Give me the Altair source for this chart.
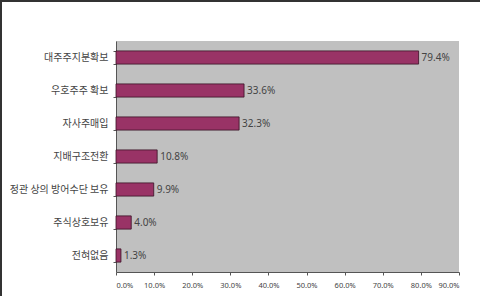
import altair as alt
import pandas as pd

categories = ["대주주지분확보", "우호주주 확보", "자사주매입", "지배구조전환", "정관 상의 방어수단 보유", "주식상호보유", "전혀없음"]
values = [0.794, 0.336, 0.323, 0.108, 0.099, 0.040, 0.013]
labels = ["79.4%", "33.6%", "32.3%", "10.8%", "9.9%", "4.0%", "1.3%"]
x_ticks = [0.0, 0.1, 0.2, 0.3, 0.4, 0.5, 0.6, 0.7, 0.8, 0.9]

df = pd.DataFrame({"cat": categories, "val": values, "lab": labels})

y = alt.Y("cat:N", sort=categories, title=None,
          scale=alt.Scale(paddingInner=0.6, paddingOuter=0.3),
          axis=alt.Axis(tickBand="extent", labelFontSize=10, labelColor="#444444",
                        labelFont="Noto Sans CJK KR", labelPadding=5, tickSize=3,
                        tickColor="#555555", domainColor="#555555", labelLimit=200))
x = alt.X("val:Q", title=None,
          scale=alt.Scale(domain=[0, 0.9], nice=False),
          axis=alt.Axis(format=".1%", values=x_ticks, grid=False, labelOverlap=False,
                        labelFontSize=7.5, labelColor="#444444", labelFont="Noto Sans",
                        tickSize=3, tickColor="#555555", domainColor="#555555", labelPadding=6))

bars = alt.Chart(df).mark_bar(color="#993366", stroke="#3a1025", strokeWidth=0.8).encode(x=x, y=y)
text = alt.Chart(df).mark_text(align="left", dx=3, fontSize=10, color="#444444",
                               font="Noto Sans").encode(x=x, y=y, text="lab:N")

frame_top = alt.Chart(df).mark_rule(color="#333333", strokeWidth=2, clip=False).encode(
    x=alt.value(-116), x2=alt.value(364), y=alt.value(-40))
frame_left = alt.Chart(df).mark_rule(color="#333333", strokeWidth=2, clip=False).encode(
    x=alt.value(-115), y=alt.value(-41), y2=alt.value(255))

chart = (bars + text + frame_top + frame_left).properties(
    width=343, height=231,
    autosize=alt.AutoSizeParams(type="none"),
    padding={"left": 116, "top": 41, "right": 21, "bottom": 24},
    background="white",
).configure_view(fill="#C0C0C0", stroke=None)

chart.save("out.html", embed_options={"renderer": "svg", "actions": False})
